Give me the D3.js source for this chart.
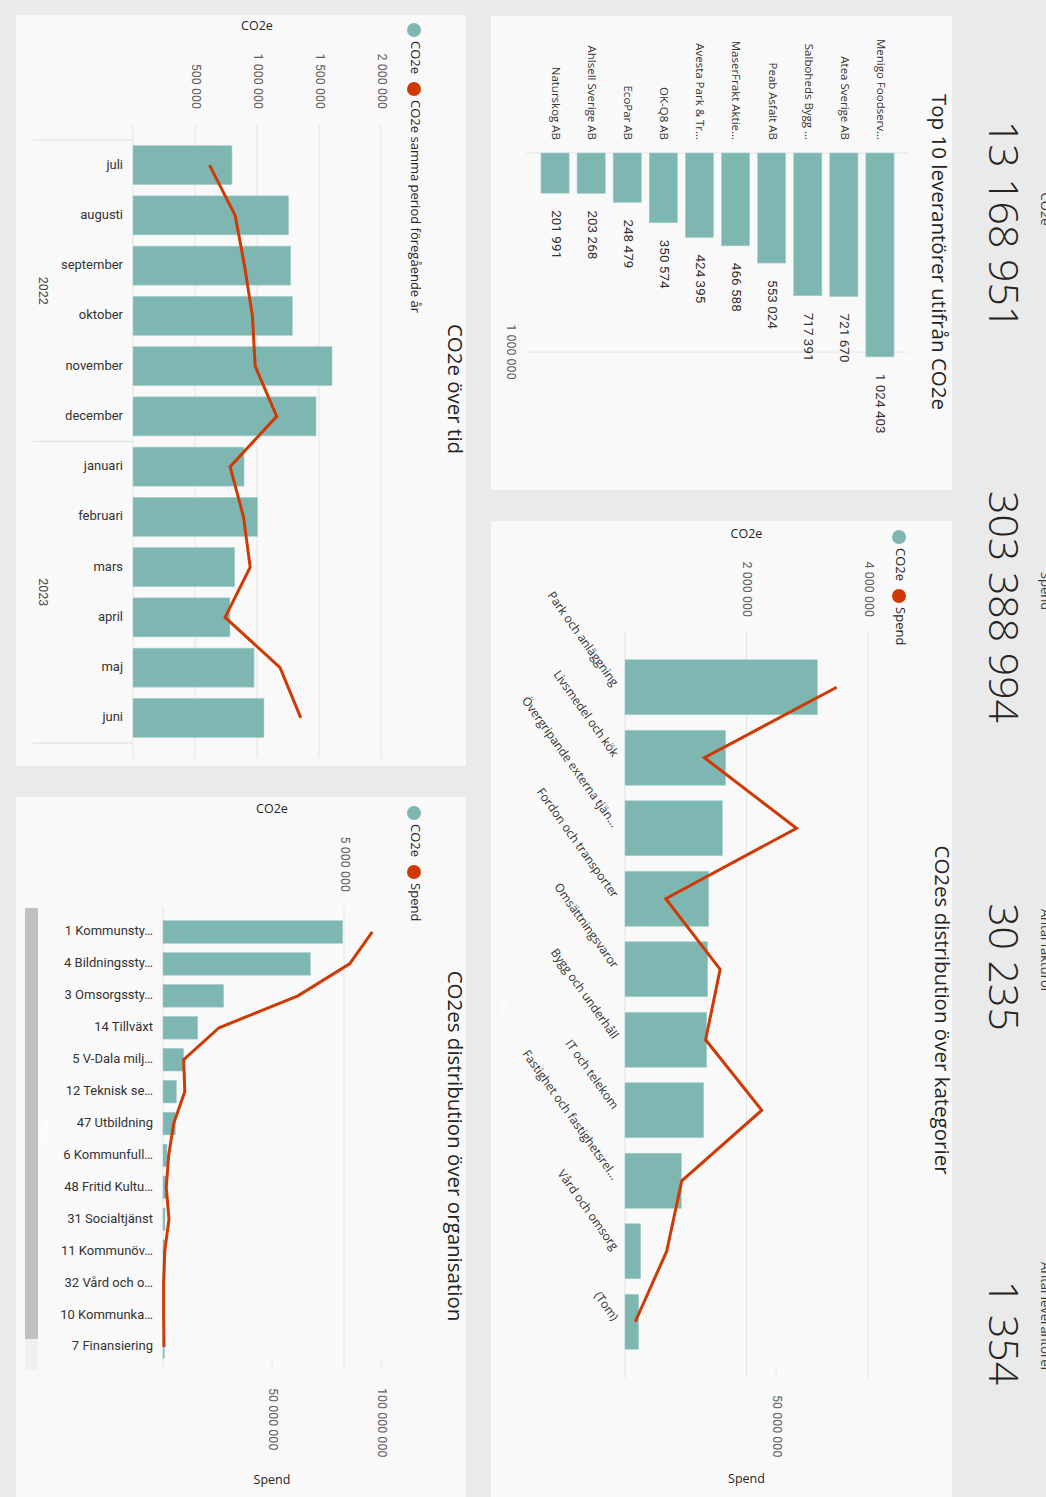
<!DOCTYPE html>
<html><head><meta charset="utf-8">
<script src="https://cdn.jsdelivr.net/npm/d3@7"></script>
<style>body{margin:0;background:#eaeaea;} svg{display:block}</style>
</head><body>
<script>
// ---------------- DATA ----------------
const kpiValues = ["13 168 951", "303 388 994", "30 235", "1 354"];
const kpiLabels = ["CO2e", "Spend", "Antal fakturor", "Antal leverantörer"];

const topSuppliers = ["Menigo Foodserv…", "Atea Sverige AB", "Salboheds Bygg …", "Peab Asfalt AB", "MaserFrakt Aktie…",
  "Avesta Park & Tr…", "OK-Q8 AB", "EcoPar AB", "Ahlsell Sverige AB", "Naturskog AB"];
const topCO2e = [1024403, 721670, 717391, 553024, 466588, 424395, 350574, 248479, 203268, 201991];
const topTickValues = [1000000];
const topTickLabels = ["1 000 000"];

const months = ["juli", "augusti", "september", "oktober", "november", "december",
  "januari", "februari", "mars", "april", "maj", "juni"];
const monthYears = ["2022", "2022", "2022", "2022", "2022", "2022", "2023", "2023", "2023", "2023", "2023", "2023"];
const years = ["2022", "2023"];
const monthCO2e = [798000, 1255000, 1272000, 1285000, 1605000, 1476000, 895000, 1005000, 820000, 782000, 976000, 1056000];
const monthPrevCO2e = [617000, 824000, 899000, 963000, 985000, 1159000, 783000, 891000, 945000, 743000, 1186000, 1353000];
const timeTickValues = [0, 500000, 1000000, 1500000, 2000000];
const timeTickLabels = ["", "500 000", "1 000 000", "1 500 000", "2 000 000"];

const categories = ["Park och anläggning", "Livsmedel och kök", "Övergripande externa tjän…", "Fordon och transporter",
  "Omsättningsvaror", "Bygg och underhåll", "IT och telekom", "Fastighet och fastighetsrel…", "Vård och omsorg", "(Tom)"];
const catCO2e = [3166000, 1657000, 1602000, 1377000, 1361000, 1345000, 1295000, 927000, 258000, 225000];
const catSpend = [70100000, 26300000, 56800000, 13500000, 31500000, 26700000, 45300000, 18800000, 13800000, 3400000];
const catTickValues = [0, 2000000, 4000000];
const catTickLabels = ["", "2 000 000", "4 000 000"];
const catSpendTickValues = [50000000];
const catSpendTickLabels = ["50 000 000"];

const orgs = ["1 Kommunsty…", "4 Bildningssty…", "3 Omsorgssty…", "14 Tillväxt", "5 V-Dala milj…", "12 Teknisk se…",
  "47 Utbildning", "6 Kommunfull…", "48 Fritid Kultu…", "31 Socialtjänst", "11 Kommunöv…", "32 Vård och o…",
  "10 Kommunka…", "7 Finansiering"];
const orgCO2e = [4964000, 4072000, 1677000, 959000, 572000, 370000, 343000, 110000, 94000, 55000, 55000, 14000, 6000, 40000];
const orgSpend = [96000000, 85600000, 61900000, 25700000, 9500000, 10000000, 4900000, 2600000, 1500000, 2750000, 800000, 300000, 300000, 450000];
const orgTickValues = [0, 5000000];
const orgTickLabels = ["", "5 000 000"];
const orgSpendTickValues = [50000000, 100000000];
const orgSpendTickLabels = ["50 000 000", "100 000 000"];

// ---------------- STYLE ----------------
const TEAL = "#7eb6b1", RED = "#cf3a04", GRID = "#e4e4e4";
const SEGOE = "'Open Sans','Noto Sans',sans-serif";
const DIN = "Roboto,'Noto Sans',sans-serif";
const DARK = "#252423", GREY = "#605e5c";

const svg = d3.select("body").append("svg").attr("width", 1046).attr("height", 1497);
svg.append("rect").attr("width", 1046).attr("height", 1497).attr("fill", "#eaeaea");
// the dashboard is drawn in its own (landscape) frame and turned a quarter turn clockwise
const g = svg.append("g").attr("transform", "translate(1046,0) rotate(90)");

function txt(parent, x, y, s, o = {}) {
  const t = parent.append("text").attr("x", x).attr("y", y).text(s)
    .attr("font-family", o.font || DIN).attr("font-size", o.size || 12)
    .attr("fill", o.fill || DARK).attr("text-anchor", o.anchor || "start")
    .attr("dominant-baseline", o.base || "middle");
  if (o.weight) t.attr("font-weight", o.weight);
  if (o.rot != null) t.attr("transform", `rotate(${o.rot},${x},${y})`);
  return t;
}

// panels
[[16, 94, 474, 461], [521, 94, 976, 461], [15, 580, 751, 450], [797, 580, 700, 450]].forEach(p =>
  g.append("rect").attr("x", p[0]).attr("y", p[1]).attr("width", p[2]).attr("height", p[3]).attr("fill", "#f9f9f9"));

// ---------------- KPI cards ----------------
const kpiCenters = [225, 607, 967, 1333];
kpiValues.forEach((v, i) => {
  txt(g, kpiCenters[i], 46, v, {font: SEGOE, size: 41, weight: 300, anchor: "middle", fill: "#252423"});
  txt(g, kpiCenters[i] - 16, 5, kpiLabels[i], {font: SEGOE, size: 13, anchor: "middle", fill: "#3b3a39", base: "alphabetic"});
});

function legend(x, y, items) {
  let cx = x;
  items.forEach(it => {
    g.append("circle").attr("cx", cx).attr("cy", y).attr("r", 7).attr("fill", it.c);
    const t = txt(g, cx + 11, y, it.t, {font: SEGOE, size: 13, fill: DARK});
    cx = cx + 11 + t.node().getComputedTextLength() + 15;
  });
}

// ---------------- Top 10 ----------------
{
  txt(g, 252, 109, "Top 10 leverantörer utifrån CO2e", {font: SEGOE, size: 20.5, anchor: "middle"});
  const y = d3.scaleBand().domain(topSuppliers).range([148, 509]).paddingInner(0.22).paddingOuter(0.11);
  const x = d3.scaleLinear().domain([0, 1000000]).range([153, 352]);
  [0, ...topTickValues].forEach(v => g.append("line").attr("x1", x(v)).attr("x2", x(v))
    .attr("y1", 138).attr("y2", 520).attr("stroke", GRID));
  topTickValues.forEach((v, i) => txt(g, x(v), 536, topTickLabels[i], {size: 12.5, anchor: "middle", fill: GREY}));
  topSuppliers.forEach((s, i) => {
    g.append("rect").attr("x", x(0)).attr("y", y(s)).attr("width", x(topCO2e[i]) - x(0))
      .attr("height", y.bandwidth()).attr("fill", TEAL).attr("stroke", "#a9d0cc").attr("stroke-width", 0.6);
    txt(g, 140, y(s) + y.bandwidth() / 2, s, {font: SEGOE, size: 11.5, anchor: "end", fill: "#333"});
    txt(g, x(topCO2e[i]) + 17, y(s) + y.bandwidth() / 2, d3.format(",")(topCO2e[i]).replace(/,/g, " "),
      {size: 13.5, fill: "#333"});
  });
}

// ---------------- CO2e över tid ----------------
{
  txt(g, 389, 593, "CO2e över tid", {font: SEGOE, size: 20.5, anchor: "middle"});
  legend(30, 632, [{c: TEAL, t: "CO2e"}, {c: RED, t: "CO2e samma period föregående år"}]);
  const x = d3.scaleBand().domain(months).range([140, 743]).paddingInner(0.224).paddingOuter(0.112);
  const y = d3.scaleLinear().domain([0, 2000000]).range([913, 665]);
  timeTickValues.forEach((v, i) => {
    g.append("line").attr("x1", 125).attr("x2", 758).attr("y1", y(v)).attr("y2", y(v)).attr("stroke", GRID);
    if (timeTickLabels[i]) txt(g, 109, y(v), timeTickLabels[i], {size: 12.5, anchor: "end", fill: GREY});
  });
  txt(g, 27, y(1000000), "CO2e", {font: SEGOE, size: 12.5, anchor: "middle", rot: -90, fill: DARK});
  months.forEach((m, i) => {
    g.append("rect").attr("x", x(m)).attr("y", y(monthCO2e[i])).attr("width", x.bandwidth())
      .attr("height", y(0) - y(monthCO2e[i])).attr("fill", TEAL).attr("stroke", "#a9d0cc").attr("stroke-width", 0.6);
    txt(g, x(m) + x.bandwidth() / 2, 923, m, {size: 13, anchor: "end", rot: -90, fill: "#333"});
  });
  const line = d3.line().x((d, i) => x(months[i]) + x.bandwidth() / 2).y(d => y(d));
  g.append("path").attr("d", line(monthPrevCO2e)).attr("fill", "none").attr("stroke", RED).attr("stroke-width", 3);
  // year hierarchy
  const half = x.step() * x.paddingInner() / 2;
  const bounds = [x.range()[0], x(months[monthYears.indexOf("2023")]) - half, x.range()[1]];
  bounds.forEach(b => g.append("line").attr("x1", b).attr("x2", b).attr("y1", 914).attr("y2", 1013).attr("stroke", GRID).attr("stroke-width", 1.5));
  years.forEach((yr, i) => txt(g, (bounds[i] + bounds[i + 1]) / 2, 1004, yr, {size: 12.5, anchor: "middle", fill: "#444"}));
}

// ---------------- CO2es distribution över kategorier ----------------
{
  txt(g, 1010, 106, "CO2es distribution över kategorier", {font: SEGOE, size: 20.5, anchor: "middle"});
  legend(537, 147, [{c: TEAL, t: "CO2e"}, {c: RED, t: "Spend"}]);
  const x = d3.scaleBand().domain(categories).range([652, 1357]).paddingInner(0.22).paddingOuter(0.11);
  const y = d3.scaleLinear().domain([0, 4000000]).range([421, 178]);
  const y2 = d3.scaleLinear().domain([0, 50000000]).range([421, 270]);
  catTickValues.forEach((v, i) => {
    g.append("line").attr("x1", 632).attr("x2", 1378).attr("y1", y(v)).attr("y2", y(v)).attr("stroke", GRID);
    if (catTickLabels[i]) txt(g, 617, y(v), catTickLabels[i], {size: 12.5, anchor: "end", fill: GREY});
  });
  catSpendTickValues.forEach((v, i) => {
    g.append("line").attr("x1", 1370).attr("x2", 1378).attr("y1", y2(v)).attr("y2", y2(v)).attr("stroke", GRID);
    txt(g, 1395, y2(v), catSpendTickLabels[i], {size: 12.5, fill: GREY});
  });
  txt(g, 535, y(2000000), "CO2e", {font: SEGOE, size: 12.5, anchor: "middle", rot: -90});
  txt(g, 1480, y(2000000), "Spend", {font: SEGOE, size: 12.5, anchor: "middle", rot: -90});
  categories.forEach((c, i) => {
    g.append("rect").attr("x", x(c)).attr("y", y(catCO2e[i])).attr("width", x.bandwidth())
      .attr("height", y(0) - y(catCO2e[i])).attr("fill", TEAL).attr("stroke", "#a9d0cc").attr("stroke-width", 0.6);
    const cx = x(c) + x.bandwidth() / 2 - 2;
    txt(g, cx, 431, c, {font: SEGOE, size: 12, anchor: "end", rot: -35.5, fill: "#333"});
  });
  const line = d3.line().x((d, i) => x(categories[i]) + x.bandwidth() / 2).y(d => y2(d));
  g.append("path").attr("d", line(catSpend)).attr("fill", "none").attr("stroke", RED).attr("stroke-width", 3);
  txt(g, 997, 543, "Nivå 1", {font: SEGOE, size: 11, fill: "#ffffff"});
}

// ---------------- CO2es distribution över organisation ----------------
{
  txt(g, 1146, 593, "CO2es distribution över organisation", {font: SEGOE, size: 20.5, anchor: "middle"});
  legend(813, 632, [{c: TEAL, t: "CO2e"}, {c: RED, t: "Spend"}]);
  const x = d3.scaleBand().domain(orgs).range([916, 1363]).paddingInner(0.29).paddingOuter(0.145);
  const y = d3.scaleLinear().domain([0, 5000000]).range([883, 702]);
  const y2 = d3.scaleLinear().domain([0, 100000000]).range([883, 665]);
  orgTickValues.forEach((v, i) => {
    g.append("line").attr("x1", 907).attr("x2", 1370).attr("y1", y(v)).attr("y2", y(v)).attr("stroke", GRID);
    if (orgTickLabels[i]) txt(g, 892, y(v), orgTickLabels[i], {size: 12.5, anchor: "end", fill: GREY});
  });
  orgSpendTickValues.forEach((v, i) => {
    g.append("line").attr("x1", 1362).attr("x2", 1370).attr("y1", y2(v)).attr("y2", y2(v)).attr("stroke", GRID);
    txt(g, 1388, y2(v), orgSpendTickLabels[i], {size: 12.5, fill: GREY});
  });
  txt(g, 810, y2(50000000), "CO2e", {font: SEGOE, size: 12.5, anchor: "middle", rot: -90});
  txt(g, 1481, y2(50000000), "Spend", {font: SEGOE, size: 12.5, anchor: "middle", rot: -90});
  // scrollbar of the hierarchy
  g.append("rect").attr("x", 908).attr("y", 1008).attr("width", 462).attr("height", 13).attr("fill", "#f0f0f0");
  g.append("rect").attr("x", 908).attr("y", 1008).attr("width", 431).attr("height", 13).attr("fill", "#c1c1c1");
  txt(g, 1120, 1001, "Nivå 1", {font: SEGOE, size: 11, fill: "#ffffff"});
  orgs.forEach((o, i) => {
    g.append("rect").attr("x", x(o)).attr("y", y(orgCO2e[i])).attr("width", x.bandwidth())
      .attr("height", y(0) - y(orgCO2e[i])).attr("fill", TEAL).attr("stroke", "#a9d0cc").attr("stroke-width", 0.6);
    txt(g, x(o) + x.bandwidth() / 2, 893, o, {size: 13, anchor: "end", rot: -90, fill: "#333"});
  });
  const line = d3.line().x((d, i) => x(orgs[i]) + x.bandwidth() / 2).y(d => y2(d));
  g.append("path").attr("d", line(orgSpend)).attr("fill", "none").attr("stroke", RED).attr("stroke-width", 3);
}
</script>
</body></html>
